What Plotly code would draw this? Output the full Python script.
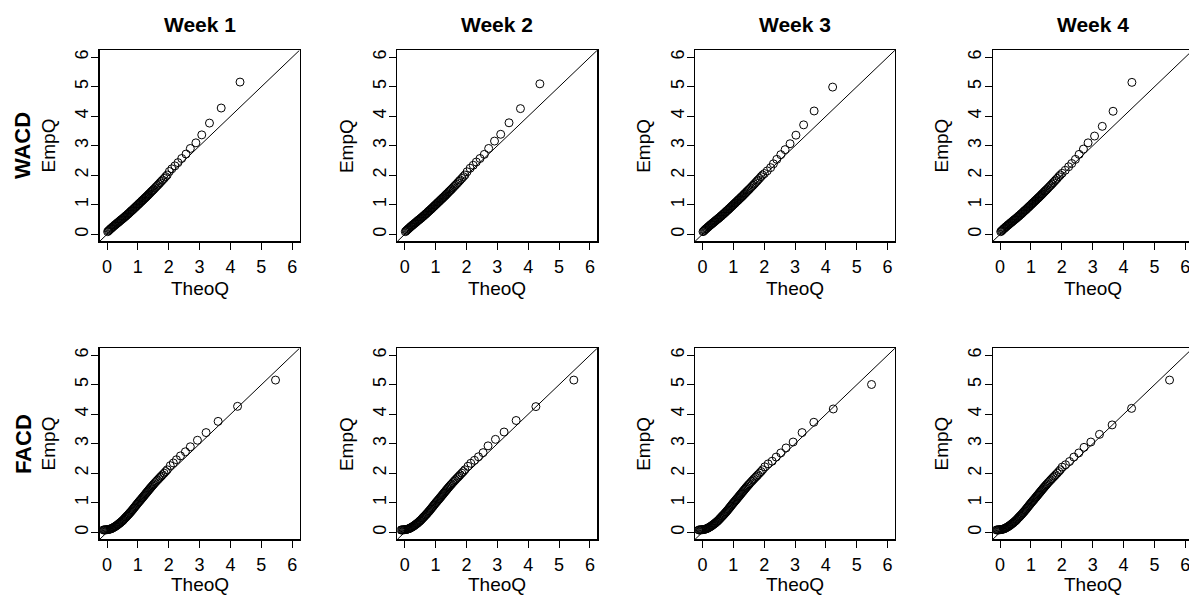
import plotly.graph_objects as go

# ---------------- data ----------------
weeks = ["Week 1", "Week 2", "Week 3", "Week 4"]
models = ["WACD", "FACD"]
tick_vals = [0, 1, 2, 3, 4, 5, 6]
tick_text = ["0", "1", "2", "3", "4", "5", "6"]
axis_range = [-0.24, 6.24]

# dense lower part of the WACD QQ-curves (theoretical, empirical)
wacd_dense_theo = [0.020, 0.045, 0.070, 0.095, 0.120, 0.145, 0.170, 0.195, 0.220, 0.245,
                   0.270, 0.295, 0.320, 0.345, 0.370, 0.395, 0.420, 0.445, 0.470, 0.495,
                   0.520, 0.545, 0.570, 0.595, 0.620, 0.645, 0.670, 0.695, 0.720, 0.745,
                   0.770, 0.795, 0.820, 0.845, 0.870, 0.895, 0.920, 0.945, 0.970, 0.995,
                   1.020, 1.045, 1.070, 1.095, 1.120, 1.145, 1.170, 1.195, 1.220, 1.245,
                   1.270, 1.295, 1.320, 1.345, 1.370, 1.400, 1.430, 1.460, 1.490, 1.520,
                   1.560, 1.600, 1.640, 1.680, 1.720, 1.760, 1.800, 1.850, 1.900, 1.950]
wacd_dense_emp = [0.090, 0.115, 0.140, 0.165, 0.190, 0.210, 0.235, 0.260, 0.280, 0.305,
                  0.325, 0.345, 0.370, 0.390, 0.410, 0.435, 0.455, 0.480, 0.500, 0.520,
                  0.540, 0.565, 0.585, 0.610, 0.630, 0.655, 0.680, 0.700, 0.725, 0.750,
                  0.775, 0.800, 0.820, 0.845, 0.870, 0.895, 0.920, 0.945, 0.970, 0.995,
                  1.020, 1.045, 1.070, 1.095, 1.120, 1.145, 1.170, 1.195, 1.220, 1.245,
                  1.270, 1.295, 1.320, 1.350, 1.375, 1.405, 1.440, 1.470, 1.500, 1.530,
                  1.575, 1.620, 1.660, 1.705, 1.750, 1.795, 1.840, 1.895, 1.955, 2.010]

# dense lower part of the FACD QQ-curves
facd_dense_theo = [-0.120, -0.095, -0.070, -0.045, -0.020, 0.005, 0.030, 0.055, 0.080, 0.105,
                   0.130, 0.155, 0.180, 0.205, 0.230, 0.255, 0.280, 0.305, 0.330, 0.355,
                   0.380, 0.405, 0.430, 0.455, 0.480, 0.505, 0.530, 0.555, 0.580, 0.605,
                   0.630, 0.655, 0.680, 0.705, 0.730, 0.755, 0.780, 0.805, 0.830, 0.855,
                   0.880, 0.905, 0.930, 0.955, 0.980, 1.005, 1.030, 1.055, 1.080, 1.105,
                   1.130, 1.155, 1.180, 1.205, 1.230, 1.255, 1.280, 1.305, 1.330, 1.355,
                   1.380, 1.405, 1.430, 1.460, 1.490, 1.520, 1.560, 1.600, 1.640, 1.680,
                   1.720, 1.760, 1.800, 1.850, 1.900, 1.950]
facd_dense_emp = [0.080, 0.080, 0.082, 0.084, 0.087, 0.090, 0.094, 0.099, 0.104, 0.111,
                  0.120, 0.130, 0.145, 0.160, 0.175, 0.190, 0.208, 0.225, 0.245, 0.265,
                  0.285, 0.305, 0.325, 0.350, 0.372, 0.395, 0.420, 0.450, 0.478, 0.505,
                  0.533, 0.560, 0.588, 0.615, 0.645, 0.675, 0.705, 0.735, 0.768, 0.800,
                  0.833, 0.866, 0.898, 0.932, 0.964, 0.996, 1.027, 1.058, 1.088, 1.118,
                  1.150, 1.182, 1.214, 1.246, 1.278, 1.310, 1.342, 1.374, 1.405, 1.437,
                  1.468, 1.500, 1.530, 1.567, 1.603, 1.638, 1.685, 1.730, 1.775, 1.820,
                  1.863, 1.905, 1.950, 2.005, 2.060, 2.120]

# sparse upper tails per panel
wacd_w1_theo = [2.02, 2.10, 2.20, 2.30, 2.42, 2.56, 2.70, 2.88, 3.07, 3.32, 3.70, 4.31]
wacd_w1_emp = [2.13, 2.22, 2.32, 2.43, 2.57, 2.72, 2.91, 3.10, 3.37, 3.77, 4.28, 5.16]
wacd_w2_theo = [2.02, 2.12, 2.22, 2.32, 2.44, 2.58, 2.72, 2.91, 3.11, 3.38, 3.75, 4.38]
wacd_w2_emp = [2.12, 2.24, 2.34, 2.45, 2.57, 2.71, 2.91, 3.16, 3.39, 3.78, 4.26, 5.10]
wacd_w3_theo = [2.01, 2.10, 2.21, 2.30, 2.41, 2.54, 2.68, 2.84, 3.03, 3.28, 3.62, 4.22]
wacd_w3_emp = [2.06, 2.15, 2.26, 2.39, 2.54, 2.70, 2.87, 3.07, 3.36, 3.71, 4.18, 4.99]
wacd_w4_theo = [2.01, 2.11, 2.22, 2.32, 2.44, 2.56, 2.70, 2.85, 3.06, 3.31, 3.66, 4.27]
wacd_w4_emp = [2.07, 2.17, 2.29, 2.40, 2.54, 2.71, 2.89, 3.10, 3.33, 3.66, 4.17, 5.15]

facd_w1_theo = [2.05, 2.15, 2.25, 2.38, 2.54, 2.70, 2.93, 3.21, 3.60, 4.23, 5.46]
facd_w1_emp = [2.26, 2.35, 2.46, 2.59, 2.73, 2.90, 3.12, 3.38, 3.76, 4.27, 5.16]
facd_w2_theo = [2.05, 2.14, 2.26, 2.39, 2.54, 2.70, 2.94, 3.22, 3.61, 4.25, 5.48]
facd_w2_emp = [2.24, 2.34, 2.44, 2.56, 2.70, 2.93, 3.15, 3.40, 3.79, 4.26, 5.16]
facd_w3_theo = [2.02, 2.13, 2.26, 2.39, 2.54, 2.71, 2.94, 3.23, 3.61, 4.24, 5.48]
facd_w3_emp = [2.22, 2.32, 2.41, 2.55, 2.69, 2.86, 3.06, 3.38, 3.73, 4.18, 5.01]
facd_w4_theo = [2.01, 2.12, 2.25, 2.39, 2.55, 2.72, 2.94, 3.22, 3.63, 4.26, 5.49]
facd_w4_emp = [2.21, 2.29, 2.40, 2.55, 2.69, 2.88, 3.06, 3.32, 3.64, 4.20, 5.16]

panels = {
    ("WACD", 0): (wacd_dense_theo + wacd_w1_theo, wacd_dense_emp + wacd_w1_emp),
    ("WACD", 1): (wacd_dense_theo + wacd_w2_theo, wacd_dense_emp + wacd_w2_emp),
    ("WACD", 2): (wacd_dense_theo + wacd_w3_theo, wacd_dense_emp + wacd_w3_emp),
    ("WACD", 3): (wacd_dense_theo + wacd_w4_theo, wacd_dense_emp + wacd_w4_emp),
    ("FACD", 0): (facd_dense_theo + facd_w1_theo, facd_dense_emp + facd_w1_emp),
    ("FACD", 1): (facd_dense_theo + facd_w2_theo, facd_dense_emp + facd_w2_emp),
    ("FACD", 2): (facd_dense_theo + facd_w3_theo, facd_dense_emp + facd_w3_emp),
    ("FACD", 3): (facd_dense_theo + facd_w4_theo, facd_dense_emp + facd_w4_emp),
}

# ---------------- layout geometry (pixels) ----------------
W, H = 1189, 596
col_left = [99.6, 397.3, 695.0, 992.7]
box_w = 200.0
row_top = [50.2, 348.2]
box_h = 191.2
theoq_y = [288.0, 584.0]
FONT = "Liberation Sans, Arial, Helvetica, sans-serif"

fig = go.Figure()
layout = dict(
    width=W, height=H,
    margin=dict(l=0, r=0, t=0, b=0, pad=0),
    paper_bgcolor="white", plot_bgcolor="white",
    showlegend=False,
    font=dict(family=FONT, color="black", size=18),
)
annotations = []

idx = 0
for r, model in enumerate(models):
    for c, week in enumerate(weeks):
        idx += 1
        xa = "x" if idx == 1 else f"x{idx}"
        ya = "y" if idx == 1 else f"y{idx}"
        x0 = col_left[c]
        x1 = min(x0 + box_w, W)
        px_per_unit = box_w / (axis_range[1] - axis_range[0])
        xr = [axis_range[0], axis_range[0] + (x1 - x0) / px_per_unit]
        top = row_top[r]
        bot = top + box_h
        common = dict(
            showgrid=False, zeroline=False, showline=True, mirror=True,
            linecolor="black", linewidth=1.2,
            ticks="outside", ticklen=7, tickwidth=1, tickcolor="black",
            tickmode="array", tickvals=tick_vals, ticktext=tick_text,
            tickfont=dict(family=FONT, size=18, color="black"),
            ticklabeloverflow="allow",
            fixedrange=True,
        )
        layout["xaxis" if idx == 1 else f"xaxis{idx}"] = dict(
            common, domain=[x0 / W, x1 / W], range=xr, anchor=ya,
            ticklabelstandoff=2,
        )
        layout["yaxis" if idx == 1 else f"yaxis{idx}"] = dict(
            common, domain=[1 - bot / H, 1 - top / H], range=axis_range,
            anchor=xa, tickangle=-90, ticklabelstandoff=-4,
        )
        theo, emp = panels[(model, c)]
        fig.add_trace(go.Scatter(
            x=theo, y=emp, mode="markers", xaxis=xa, yaxis=ya,
            marker=dict(symbol="circle-open", size=8, color="black",
                        line=dict(width=1, color="black")),
            hoverinfo="skip",
        ))
        fig.add_trace(go.Scatter(
            x=axis_range, y=axis_range, mode="lines", xaxis=xa, yaxis=ya,
            line=dict(color="black", width=1), hoverinfo="skip",
        ))
        cx = (x0 + x0 + box_w) / 2
        cy = (top + bot) / 2
        annotations.append(dict(
            text="TheoQ", x=cx / W, y=1 - theoq_y[r] / H,
            xref="paper", yref="paper", showarrow=False,
            xanchor="center", yanchor="middle",
            font=dict(family=FONT, size=19, color="black"),
        ))
        annotations.append(dict(
            text="EmpQ", x=(x0 - 51) / W, y=1 - cy / H,
            xref="paper", yref="paper", showarrow=False, textangle=-90,
            xanchor="center", yanchor="middle",
            font=dict(family=FONT, size=19, color="black"),
        ))
        if r == 0:
            annotations.append(dict(
                text=f"<b>{week}</b>", x=cx / W, y=1 - 25 / H,
                xref="paper", yref="paper", showarrow=False,
                xanchor="center", yanchor="middle",
                font=dict(family=FONT, size=21, color="black"),
            ))
        if c == 0:
            annotations.append(dict(
                text=f"<b>{model}</b>", x=23.3 / W, y=1 - cy / H,
                xref="paper", yref="paper", showarrow=False, textangle=-90,
                xanchor="center", yanchor="middle",
                font=dict(family=FONT, size=22, color="black"),
            ))

layout["annotations"] = annotations
fig.update_layout(**layout)
fig.write_html(
    "out.html",
    config={"displayModeBar": False, "staticPlot": True},
    post_script="document.body.style.margin='0';document.body.style.overflow='hidden';",
)
